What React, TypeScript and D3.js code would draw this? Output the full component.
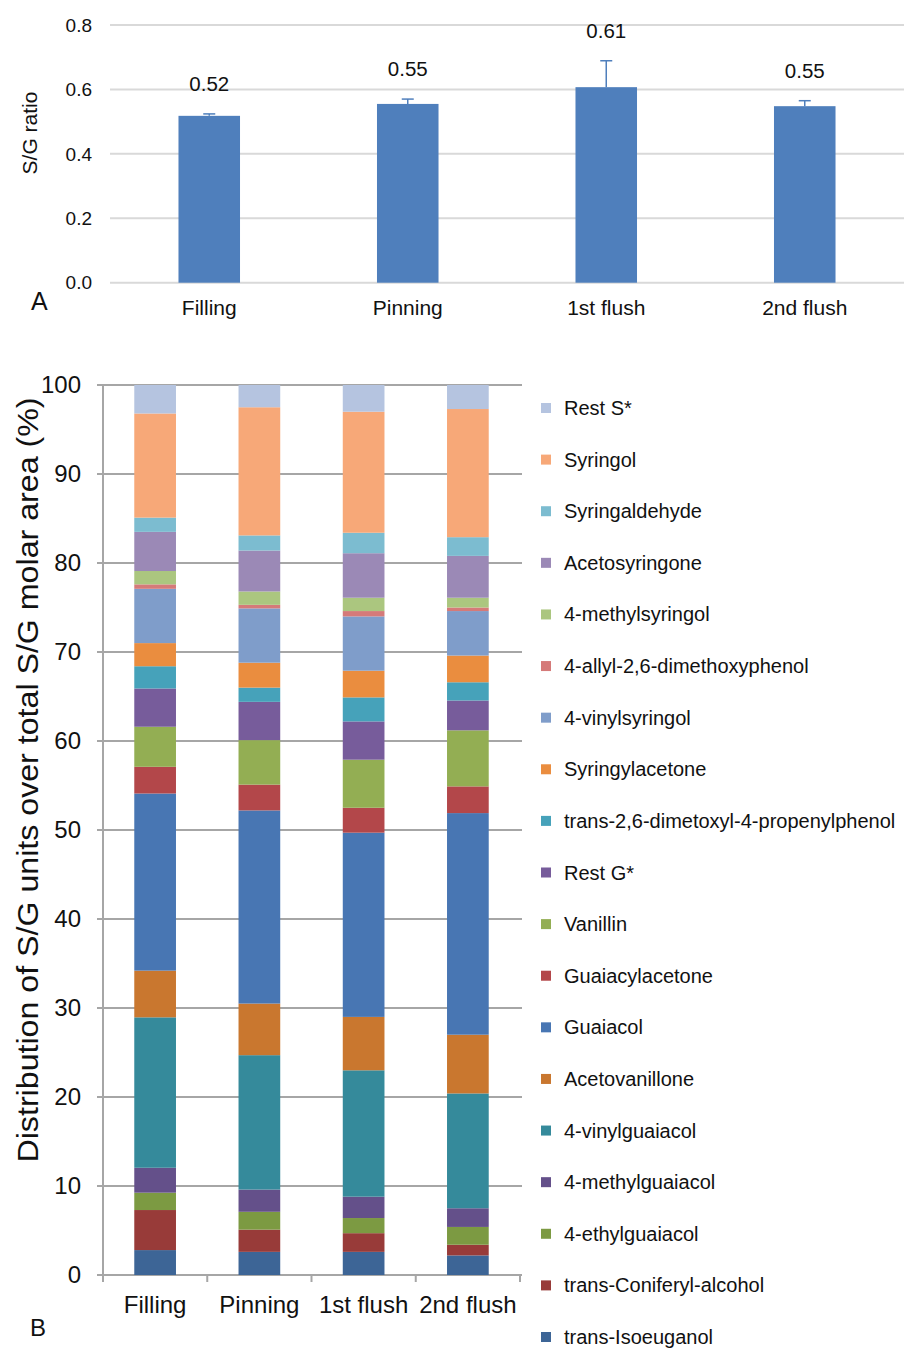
import * as d3 from "d3";

// panel A: S/G ratio per stage
const stages = ["Filling", "Pinning", "1st flush", "2nd flush"];
const sgRatio = [0.518, 0.555, 0.607, 0.548];
const sgError = [0.006, 0.015, 0.082, 0.017];
const sgLabels = ["0.52", "0.55", "0.61", "0.55"];
const ratioTicks = [0, 0.2, 0.4, 0.6, 0.8];

// panel B: compounds, bottom of stack first
const compounds = [
  "trans-Isoeuganol",
  "trans-Coniferyl-alcohol",
  "4-ethylguaiacol",
  "4-methylguaiacol",
  "4-vinylguaiacol",
  "Acetovanillone",
  "Guaiacol",
  "Guaiacylacetone",
  "Vanillin",
  "Rest G*",
  "trans-2,6-dimetoxyl-4-propenylphenol",
  "Syringylacetone",
  "4-vinylsyringol",
  "4-allyl-2,6-dimethoxyphenol",
  "4-methylsyringol",
  "Acetosyringone",
  "Syringaldehyde",
  "Syringol",
  "Rest S*",
];
const compoundColors = [
  "#3d6596", "#983b39", "#7c9a42", "#64508a", "#358a9b", "#c9772f",
  "#4876b3", "#b3474a", "#93ae53", "#775c9b", "#46a2ba", "#ea8d3f",
  "#7f9dca", "#d57a79", "#abc67f", "#9b89b6", "#7cbcd0", "#f7a878", "#b5c4e0",
];
const fillingValues = [2.8, 4.5, 1.95, 2.8, 16.9, 5.25, 19.9, 3.0, 4.5, 4.3, 2.5, 2.6, 6.1, 0.5, 1.5, 4.4, 1.6, 11.7, 3.2];
const pinningValues = [2.6, 2.5, 2.0, 2.5, 15.1, 5.8, 21.7, 2.9, 5.0, 4.3, 1.6, 2.8, 6.1, 0.4, 1.5, 4.6, 1.7, 14.4, 2.5];
const firstFlushValues = [2.6, 2.1, 1.7, 2.4, 14.2, 6.0, 20.7, 2.8, 5.4, 4.3, 2.7, 3.0, 6.1, 0.6, 1.5, 5.0, 2.3, 13.6, 3.0];
const secondFlushValues = [2.2, 1.2, 2.0, 2.1, 12.9, 6.6, 24.9, 3.0, 6.3, 3.35, 2.05, 3.0, 5.0, 0.4, 1.1, 4.7, 2.1, 14.4, 2.7];
const percentTicks = [0, 10, 20, 30, 40, 50, 60, 70, 80, 90, 100];

const FONT = "'Liberation Sans', Arial, sans-serif";
const BAR_BLUE = "#4f7fbc";

const App = () => {
  const width = 904;
  const height = 1349;

  // ---- panel A scales
  const xA = d3.scaleBand().domain(stages).range([110, 904]).paddingInner(0.69).paddingOuter(0.345);
  const yA = d3.scaleLinear().domain([0, 0.8]).range([282.7, 25]);

  // ---- panel B scales
  const xB = d3.scaleBand().domain(stages).range([103, 520]).paddingInner(0.6).paddingOuter(0.3);
  const yB = d3.scaleLinear().domain([0, 100]).range([1275, 385]);

  const valuesByStage = [fillingValues, pinningValues, firstFlushValues, secondFlushValues];
  const rows = stages.map((s, i) => {
    const row: Record<string, any> = { stage: s };
    compounds.forEach((c, j) => (row[c] = valuesByStage[i][j]));
    return row;
  });
  const series = d3.stack().keys(compounds)(rows as any);
  const color = d3.scaleOrdinal<string, string>().domain(compounds).range(compoundColors);

  const legendOrder = compounds.slice().reverse();
  const yLegend = d3.scalePoint().domain(legendOrder).range([408, 1337]);

  // category boundaries for the tick marks under panel B
  const boundaries = [...stages.map((s) => xB(s)! - (xB.step() - xB.bandwidth()) / 2), 520];

  return (
    <svg
      width={width}
      height={height}
      viewBox={`0 0 ${width} ${height}`}
      style={{ position: "absolute", left: 0, top: 0, background: "#fff" }}
      fontFamily={FONT}
    >
      <rect width={width} height={height} fill="#fff" />

      {/* ===== Panel A ===== */}
      <g>
        {ratioTicks.map((t) => (
          <g key={t}>
            <line x1={110} x2={904} y1={yA(t)} y2={yA(t)} stroke="#d9d9d9" strokeWidth={2} />
            <text x={92} y={yA(t)} dy="0.35em" textAnchor="end" fontSize={19} fill="#111">
              {t.toFixed(1)}
            </text>
          </g>
        ))}
        {stages.map((s, i) => {
          const cx = xA(s)! + xA.bandwidth() / 2;
          const top = yA(sgRatio[i] + sgError[i]);
          return (
            <g key={s}>
              <rect
                x={xA(s)}
                y={yA(sgRatio[i])}
                width={xA.bandwidth()}
                height={yA(0) - yA(sgRatio[i])}
                fill={BAR_BLUE}
              />
              <line x1={cx} x2={cx} y1={yA(sgRatio[i])} y2={top} stroke={BAR_BLUE} strokeWidth={1.5} />
              <line x1={cx - 6} x2={cx + 6} y1={top} y2={top} stroke={BAR_BLUE} strokeWidth={1.5} />
              <text x={cx} y={top - 23} textAnchor="middle" fontSize={20.5} fill="#111">
                {sgLabels[i]}
              </text>
              <text x={cx} y={315} textAnchor="middle" fontSize={21} fill="#111">
                {s}
              </text>
            </g>
          );
        })}
        <text transform="translate(37,133) rotate(-90)" textAnchor="middle" fontSize={21} fill="#111">
          S/G ratio
        </text>
        <text x={31} y={310} fontSize={25} fill="#111">
          A
        </text>
      </g>

      {/* ===== Panel B ===== */}
      <g>
        {percentTicks.map((t) => (
          <g key={t}>
            <line x1={97} x2={522} y1={yB(t)} y2={yB(t)} stroke="#a6a6a6" strokeWidth={2} />
            <text x={81} y={yB(t)} dy="0.35em" textAnchor="end" fontSize={24} fill="#111">
              {t}
            </text>
          </g>
        ))}
        <line x1={103} x2={103} y1={yB(100)} y2={yB(0) + 7} stroke="#a6a6a6" strokeWidth={2} />
        {boundaries.map((b, i) => (
          <line key={i} x1={b} x2={b} y1={yB(0)} y2={yB(0) + 7} stroke="#a6a6a6" strokeWidth={2} />
        ))}

        {series.map((ser) => (
          <g key={ser.key} fill={color(ser.key)}>
            {ser.map((d: any) => (
              <rect
                key={d.data.stage}
                x={xB(d.data.stage)}
                y={yB(d[1])}
                width={xB.bandwidth()}
                height={yB(d[0]) - yB(d[1])}
              />
            ))}
          </g>
        ))}

        {stages.map((s) => (
          <text key={s} x={xB(s)! + xB.bandwidth() / 2} y={1313} textAnchor="middle" fontSize={24} fill="#111">
            {s}
          </text>
        ))}

        <text
          transform="translate(38,780) rotate(-90)"
          textAnchor="middle"
          fontSize={30}
          textLength={765}
          lengthAdjust="spacingAndGlyphs"
          fill="#111"
        >
          Distribution of S/G units over total S/G molar area (%)
        </text>
        <text x={30} y={1336} fontSize={24} fill="#111">
          B
        </text>

        {/* legend */}
        {legendOrder.map((c) => (
          <g key={c} transform={`translate(541,${yLegend(c)})`}>
            <rect x={0} y={-5} width={10} height={10} fill={color(c)} />
            <text x={23} y={0} dy="0.35em" fontSize={20} fill="#111">
              {c}
            </text>
          </g>
        ))}
      </g>
    </svg>
  );
};

export default App;
